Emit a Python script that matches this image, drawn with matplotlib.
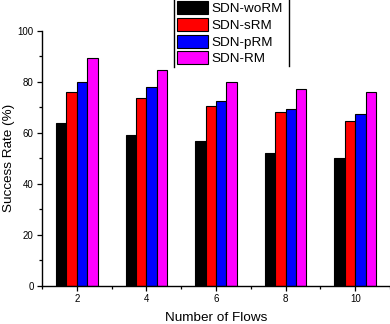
import matplotlib
matplotlib.use("Agg")
import matplotlib.pyplot as plt
from matplotlib.lines import Line2D
from matplotlib.ticker import MultipleLocator
import numpy as np

plt.rcParams['font.family'] = ['Liberation Sans', 'DejaVu Sans']

flows = [2, 4, 6, 8, 10]
series_names = ['SDN-woRM', 'SDN-sRM', 'SDN-pRM', 'SDN-RM']
woRM = [64.0, 59.3, 57.0, 52.2, 50.1]
sRM = [76.1, 73.5, 70.7, 68.3, 64.7]
pRM = [80.1, 78.1, 72.7, 69.4, 67.5]
RM = [89.5, 84.8, 80.1, 77.3, 76.1]
colors = ['#000000', '#ff0000', '#0000ff', '#ff00ff']

fig = plt.figure(figsize=(3.9, 3.24), dpi=100)
ax = fig.add_axes([42/390, 1-285.7/324, 1-42/390, (285.7-31)/324])

bw = 0.3
x = np.array(flows, dtype=float)
handles = []
for i, (vals, c, name) in enumerate(zip([woRM, sRM, pRM, RM], colors, series_names)):
    b = ax.bar(x + (i - 1.5) * bw, vals, width=bw, color=c, edgecolor='black',
               linewidth=0.8, label=name, zorder=2)
    handles.append(b)

ax.set_xlim(1, 11)
ax.set_ylim(0, 100)
ax.set_xticks(flows)
ax.xaxis.set_minor_locator(MultipleLocator(1))
ax.set_yticks([0, 20, 40, 60, 80, 100])
ax.yaxis.set_minor_locator(MultipleLocator(10))
ax.spines['top'].set_visible(False)
ax.spines['right'].set_visible(False)
for s in ['left', 'bottom']:
    ax.spines[s].set_linewidth(1.0)
ax.tick_params(axis='both', which='major', direction='out', length=3.5, width=0.9,
               labelsize=7, pad=2.5)
ax.tick_params(axis='both', which='minor', direction='out', length=2, width=0.9)
ax.set_xlabel('Number of Flows', fontsize=9.7, labelpad=6)
ax.set_ylabel('Success Rate (%)', fontsize=9.7, labelpad=2)

leg = fig.legend(handles=handles, labels=series_names, loc='lower left',
                 bbox_to_anchor=(177.3/390, 1-65.5/324), frameon=False,
                 fontsize=9.7, handlelength=2.27, handleheight=1.12,
                 handletextpad=0.3, labelspacing=0.19, borderpad=0,
                 borderaxespad=0)

fig.add_artist(Line2D([173.5/390, 173.5/390], [1, 1-67/324], color='black',
                      linewidth=1.0, transform=fig.transFigure))
fig.add_artist(Line2D([288.5/390, 288.5/390], [1, 1-66/324], color='black',
                      linewidth=1.0, transform=fig.transFigure))

fig.savefig('out.png', dpi=100)
